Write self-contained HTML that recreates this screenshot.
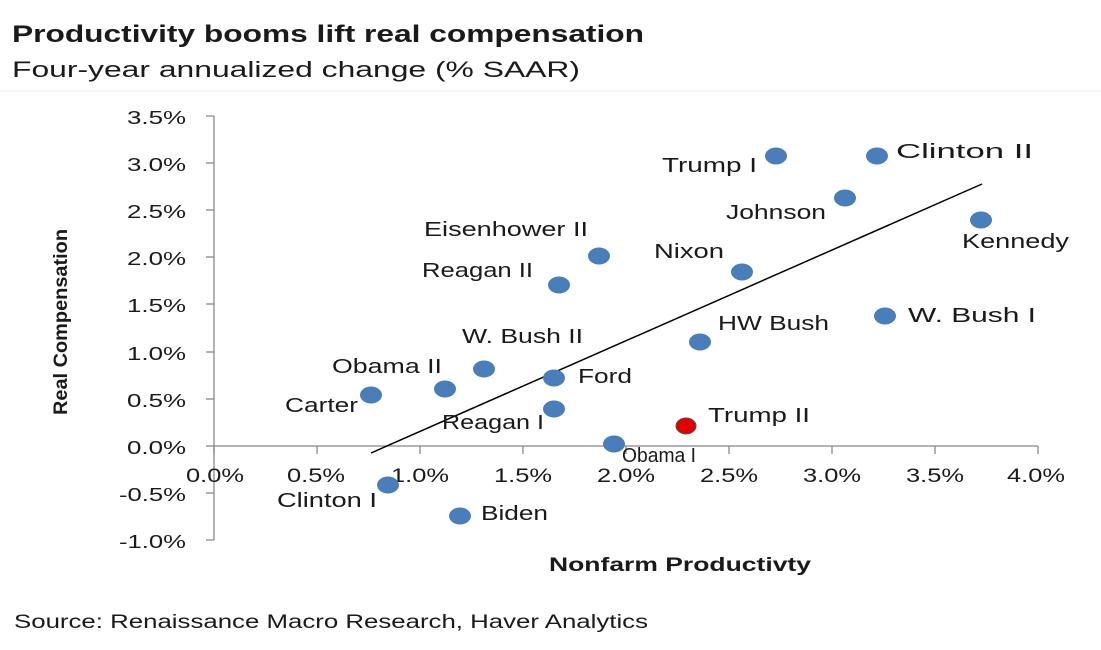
<!DOCTYPE html>
<html><head><style>
body{margin:0;background:#fff;}
svg text{font-family:"Liberation Sans",sans-serif;fill:#1a1a1a;}
</style></head><body>
<svg width="1101" height="645" viewBox="0 0 1101 645" xmlns="http://www.w3.org/2000/svg">
<text x="12" y="42" font-size="24" font-weight="bold" textLength="632" lengthAdjust="spacingAndGlyphs" fill="#000">Productivity booms lift real compensation</text>
<text x="12" y="77" font-size="22" textLength="568" lengthAdjust="spacingAndGlyphs">Four-year annualized change (% SAAR)</text>
<line x1="0" y1="91" x2="1101" y2="91" stroke="#eee" stroke-width="1"/>
<g stroke="#888" stroke-width="1.3" fill="none">
<line x1="214" y1="116" x2="214" y2="540"/>
<line x1="214" y1="446" x2="1038" y2="446"/>
<line x1="206" y1="116" x2="214" y2="116"/><line x1="206" y1="163" x2="214" y2="163"/><line x1="206" y1="210" x2="214" y2="210"/><line x1="206" y1="257" x2="214" y2="257"/><line x1="206" y1="304" x2="214" y2="304"/><line x1="206" y1="352" x2="214" y2="352"/><line x1="206" y1="399" x2="214" y2="399"/><line x1="206" y1="446" x2="214" y2="446"/><line x1="206" y1="493" x2="214" y2="493"/><line x1="206" y1="540" x2="214" y2="540"/>
<line x1="214" y1="446" x2="214" y2="454"/><line x1="317" y1="446" x2="317" y2="454"/><line x1="420" y1="446" x2="420" y2="454"/><line x1="523" y1="446" x2="523" y2="454"/><line x1="626" y1="446" x2="626" y2="454"/><line x1="729" y1="446" x2="729" y2="454"/><line x1="832" y1="446" x2="832" y2="454"/><line x1="935" y1="446" x2="935" y2="454"/><line x1="1038" y1="446" x2="1038" y2="454"/>
</g>
<g font-size="18" text-anchor="end">
<text x="186" y="124" textLength="59" lengthAdjust="spacingAndGlyphs">3.5%</text><text x="186" y="171" textLength="59" lengthAdjust="spacingAndGlyphs">3.0%</text><text x="186" y="218" textLength="59" lengthAdjust="spacingAndGlyphs">2.5%</text><text x="186" y="265" textLength="59" lengthAdjust="spacingAndGlyphs">2.0%</text><text x="186" y="312" textLength="59" lengthAdjust="spacingAndGlyphs">1.5%</text><text x="186" y="360" textLength="59" lengthAdjust="spacingAndGlyphs">1.0%</text><text x="186" y="407" textLength="59" lengthAdjust="spacingAndGlyphs">0.5%</text><text x="186" y="454" textLength="59" lengthAdjust="spacingAndGlyphs">0.0%</text><text x="186" y="501" textLength="67" lengthAdjust="spacingAndGlyphs">-0.5%</text><text x="186" y="548" textLength="67" lengthAdjust="spacingAndGlyphs">-1.0%</text>
</g>
<g font-size="19" text-anchor="middle">
<text x="215" y="482" textLength="58" lengthAdjust="spacingAndGlyphs">0.0%</text><text x="316" y="482" textLength="58" lengthAdjust="spacingAndGlyphs">0.5%</text><text x="420" y="482" textLength="58" lengthAdjust="spacingAndGlyphs">1.0%</text><text x="523" y="482" textLength="58" lengthAdjust="spacingAndGlyphs">1.5%</text><text x="626" y="482" textLength="58" lengthAdjust="spacingAndGlyphs">2.0%</text><text x="729" y="482" textLength="58" lengthAdjust="spacingAndGlyphs">2.5%</text><text x="832" y="482" textLength="58" lengthAdjust="spacingAndGlyphs">3.0%</text><text x="935" y="482" textLength="58" lengthAdjust="spacingAndGlyphs">3.5%</text><text x="1036" y="482" textLength="58" lengthAdjust="spacingAndGlyphs">4.0%</text>
</g>
<text x="680" y="571" font-size="19" font-weight="bold" text-anchor="middle" textLength="262" lengthAdjust="spacingAndGlyphs" fill="#000">Nonfarm Productivty</text>
<text transform="translate(67,322) rotate(-90)" font-size="19" font-weight="bold" text-anchor="middle" textLength="186" lengthAdjust="spacingAndGlyphs" fill="#000">Real Compensation</text>
<line x1="371" y1="453" x2="982" y2="184" stroke="#000" stroke-width="1.5"/>
<g fill="#4a7ebb">
<ellipse cx="371" cy="395" rx="11" ry="8.5"/><ellipse cx="445" cy="389" rx="11" ry="8.5"/><ellipse cx="484" cy="369" rx="11" ry="8.5"/><ellipse cx="554" cy="409" rx="11" ry="8.5"/><ellipse cx="554" cy="378" rx="11" ry="8.5"/><ellipse cx="559" cy="285" rx="11" ry="8.5"/><ellipse cx="599" cy="256" rx="11" ry="8.5"/><ellipse cx="614" cy="444" rx="11" ry="8.5"/><ellipse cx="700" cy="342" rx="11" ry="8.5"/><ellipse cx="742" cy="272" rx="11" ry="8.5"/><ellipse cx="776" cy="156" rx="11" ry="8.5"/><ellipse cx="845" cy="198" rx="11" ry="8.5"/><ellipse cx="877" cy="156" rx="11" ry="8.5"/><ellipse cx="885" cy="316" rx="11" ry="8.5"/><ellipse cx="981" cy="220" rx="11" ry="8.5"/><ellipse cx="388" cy="485" rx="11" ry="8.5"/><ellipse cx="460" cy="516" rx="11" ry="8.5"/>
</g>
<ellipse cx="686" cy="426" rx="10" ry="8" fill="#e00000" stroke="#555" stroke-width="1"/>
<g font-size="20">
<text x="285" y="412" textLength="73" lengthAdjust="spacingAndGlyphs">Carter</text>
<text x="332" y="373" textLength="110" lengthAdjust="spacingAndGlyphs">Obama II</text>
<text x="462" y="343" textLength="121" lengthAdjust="spacingAndGlyphs">W. Bush II</text>
<text x="442" y="429" textLength="102" lengthAdjust="spacingAndGlyphs">Reagan I</text>
<text x="578" y="383" textLength="54" lengthAdjust="spacingAndGlyphs">Ford</text>
<text x="422" y="277" textLength="111" lengthAdjust="spacingAndGlyphs">Reagan II</text>
<text x="424" y="236" textLength="164" lengthAdjust="spacingAndGlyphs">Eisenhower II</text>
<text x="622" y="462" textLength="74" lengthAdjust="spacingAndGlyphs">Obama I</text>
<text x="708" y="422" textLength="102" lengthAdjust="spacingAndGlyphs">Trump II</text>
<text x="718" y="330" textLength="111" lengthAdjust="spacingAndGlyphs">HW Bush</text>
<text x="654" y="258" textLength="70" lengthAdjust="spacingAndGlyphs">Nixon</text>
<text x="662" y="172" textLength="95" lengthAdjust="spacingAndGlyphs">Trump I</text>
<text x="726" y="219" textLength="100" lengthAdjust="spacingAndGlyphs">Johnson</text>
<text x="896" y="158" textLength="137" lengthAdjust="spacingAndGlyphs">Clinton II</text>
<text x="908" y="322" textLength="128" lengthAdjust="spacingAndGlyphs">W. Bush I</text>
<text x="962" y="248" textLength="107" lengthAdjust="spacingAndGlyphs">Kennedy</text>
<text x="277" y="507" textLength="100" lengthAdjust="spacingAndGlyphs">Clinton I</text>
<text x="481" y="520" textLength="67" lengthAdjust="spacingAndGlyphs">Biden</text>
</g>
<text x="14" y="628" font-size="19" textLength="634" lengthAdjust="spacingAndGlyphs">Source: Renaissance Macro Research, Haver Analytics</text>
</svg>
</body></html>
